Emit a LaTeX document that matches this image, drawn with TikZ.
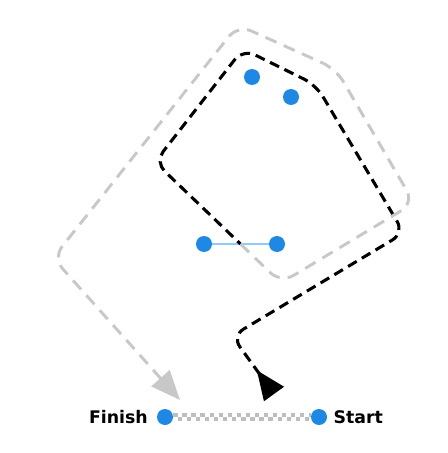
\documentclass[tikz,border=0pt]{standalone}
\usepackage{fontspec}
\setmainfont{DejaVu Sans}
\usetikzlibrary{arrows.meta,positioning}
\definecolor{dotblue}{RGB}{30,136,229}
\definecolor{gateblue}{RGB}{144,202,249}
\definecolor{backgray}{RGB}{200,200,200}
\definecolor{checkgray}{RGB}{190,190,190}

\begin{document}
\begin{tikzpicture}[x=0.75pt,y=-0.75pt,
      dot/.style={circle,fill=dotblue,inner sep=0pt,minimum size=12pt},
      lbl/.style={font=\fontsize{13}{15}\selectfont\bfseries,inner sep=0pt},
      outleg/.style={draw=black,line width=2.3pt,dash pattern=on 7.5pt off 4.5pt,rounded corners=10pt},
      backleg/.style={draw=backgray,line width=2.2pt,dash pattern=on 9pt off 6pt,rounded corners=11pt},
      checker/.style={draw=checkgray,line width=3.2pt,dash pattern=on 3.2pt off 3.6pt}]
    \useasboundingbox (0,0) rectangle (448,453);
    % Marks
    \node[dot] (m1) at (252,77) {};
    \node[dot] (m2) at (291,97) {};
    \node[dot] (g1) at (204,244) {};
    \node[dot] (g2) at (277,244) {};
    \draw[gateblue,line width=1.5pt] (g1) -- (g2);
    \coordinate (gate) at (240.5,244);
    % Start / finish line
    \node[dot] (fin) at (165,417) {};
    \node[dot] (sta) at (319,417) {};
    \node[lbl,left=6.5pt of fin] (finl) {Finish};
    \node[lbl,right=4.5pt of sta] (stal) {Start};
    \draw[checker] ([yshift=1.7pt]fin.east) -- ([yshift=1.7pt]sta.west);
    \draw[checker,dash phase=3.4pt] ([yshift=-1.7pt]fin.east) -- ([yshift=-1.7pt]sta.west);
    % Outward leg
    \coordinate (s0) at (274,394);
    \foreach \n/\p in {o1/{232,336},o2/{404,233},o3/{316,85},o4/{243,49},o5/{155,162}}{
      \coordinate (\n) at (\p);}
    \draw[outleg,{Triangle[reversed,length=22pt,width=18pt]}-]
      (s0) -- (o1) -- (o2) -- (o3) -- (o4) -- (o5) -- (gate);
    % Return leg
    \coordinate (f0) at (180,400);
    \foreach \n/\p in {r1/{281,283},r2/{414,203},r3/{336,69},r4/{238,25},r5/{53,258}}{
      \coordinate (\n) at (\p);}
    \draw[backleg,-{Triangle[length=22pt,width=18pt,fill=backgray]}]
      (gate) -- (r1) -- (r2) -- (r3) -- (r4) -- (r5) -- (f0);
  \end{tikzpicture}
\end{document}
